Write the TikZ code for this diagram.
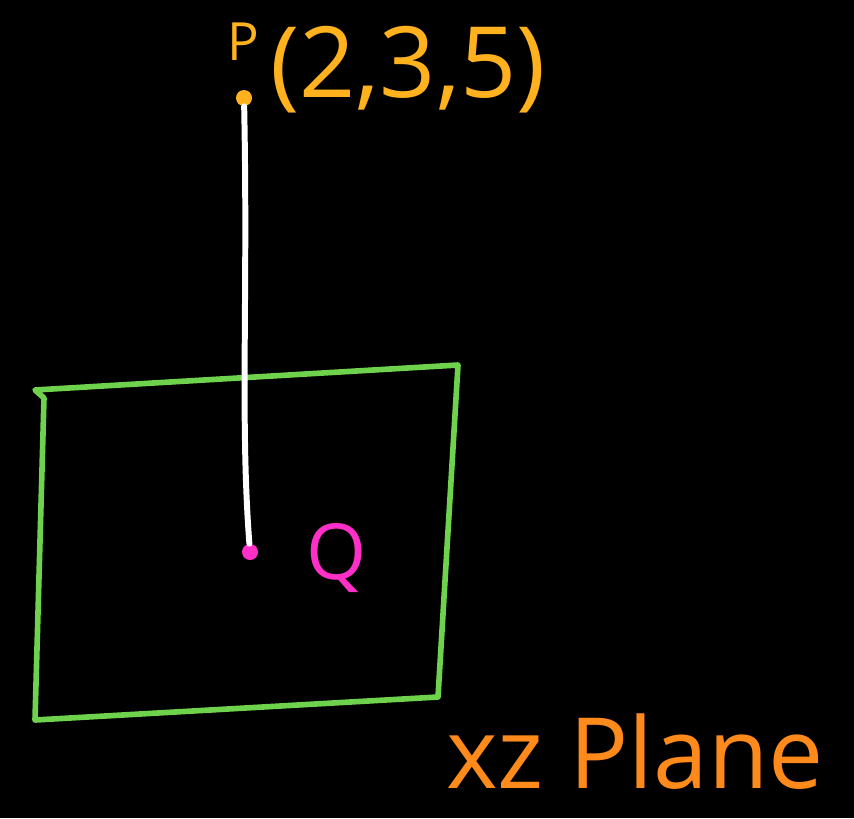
\documentclass[tikz,border=0pt]{standalone}
\usepackage{fontspec}
\setmainfont{Open Sans}
\usetikzlibrary{positioning}
\definecolor{pgold}{HTML}{FFB21E}
\definecolor{qpink}{HTML}{FF2FC8}
\definecolor{planegreen}{HTML}{6FD24C}
\definecolor{planeorange}{HTML}{FF8A1C}
\begin{document}
\begin{tikzpicture}[x=0.02cm,y=-0.02cm,
  dotpt/.style={circle,inner sep=0pt,minimum size=0.32cm},
  lbl/.style={inner sep=1pt,font=\fontsize{30}{36}\selectfont},
  biglbl/.style={inner sep=1pt,font=\fontsize{56}{64}\selectfont},
  planeedge/.style={draw=planegreen,line width=3.2pt,line join=round,line cap=round}]
\fill[black] (0,0) rectangle (854,818);
\useasboundingbox (0,0) rectangle (854,818);
% plane
\draw[planeedge] (44,398) -- (35,390) -- (458,365) -- (438,697) -- (35,720) -- cycle;
% points
\node[dotpt,fill=pgold] (P) at (244,98) {};
\node[dotpt,fill=qpink] (Q) at (250,552) {};
\node[lbl,text=pgold] (Plbl) at (243,42) {P};
\node[biglbl,text=pgold] (Pcoord) at (408,70) {(2,3,5)};
\node[biglbl,text=qpink,font=\fontsize{44}{50}\selectfont] (Qlbl) at (337,558) {Q};
\node[biglbl,text=planeorange] (plane) at (635,752) {xz Plane};
% perpendicular
\draw[white,line width=3.4pt,line cap=round] (P) .. controls (248,300) and (240,420) .. (Q);
\end{tikzpicture}
\end{document}
